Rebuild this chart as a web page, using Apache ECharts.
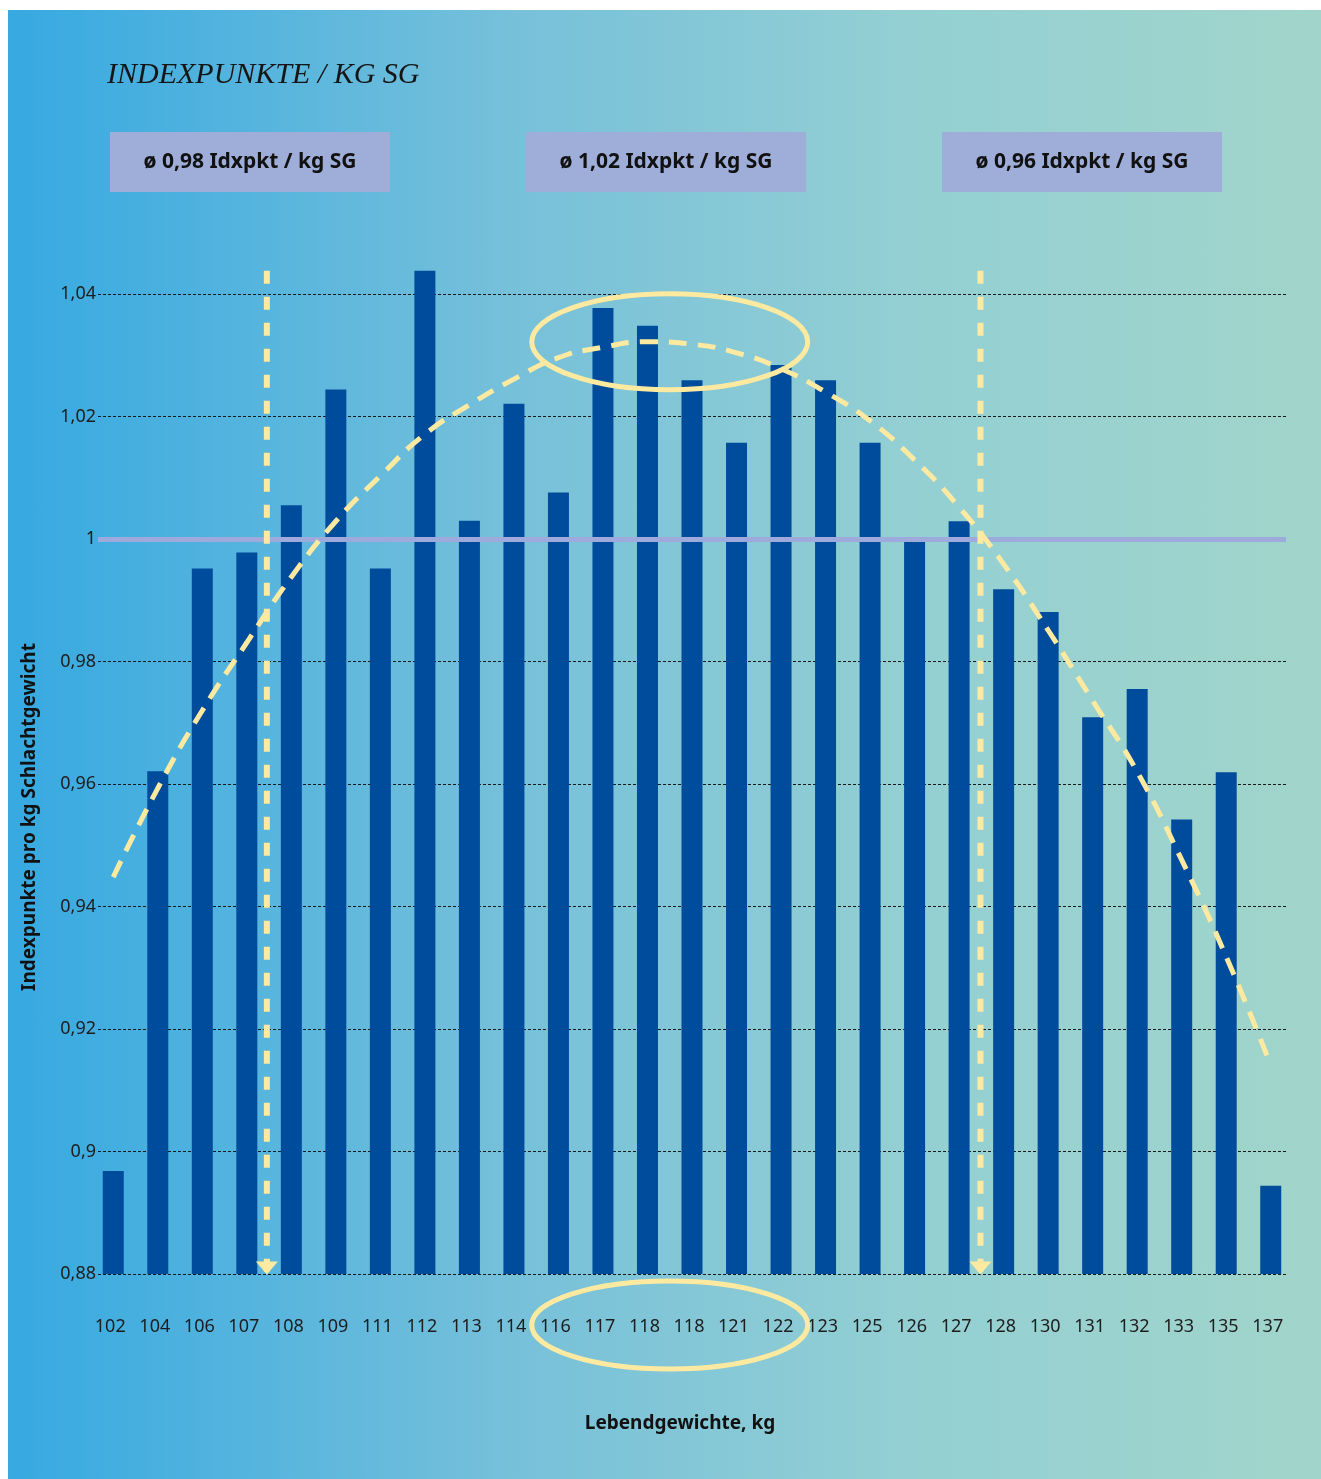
<!DOCTYPE html>
<html>
<head>
<meta charset="utf-8">
<title>Indexpunkte / kg SG</title>
<script src="https://cdn.jsdelivr.net/npm/echarts@6.0.0/dist/echarts.min.js"></script>
<style>
  html, body { margin: 0; padding: 0; background: #ffffff; }
  #bg {
    position: absolute; left: 8px; top: 10px; width: 1313px; height: 1469px;
    background: linear-gradient(to right, #36a9e1 0%, #76c0da 38%, #93cfd3 68%, #a1d5cb 100%);
  }
  #chart { position: absolute; left: 0; top: 0; width: 1321px; height: 1479px; }
</style>
</head>
<body>
<div id="bg"></div>
<div id="chart"></div>
<script>
// Live weight classes (kg) along the x axis
const weights = ['102', '104', '106', '107', '108', '109', '111', '112', '113', '114', '116', '117', '118',
                 '118', '121', '122', '123', '125', '126', '127', '128', '130', '131', '132', '133', '135', '137'];

// Index points per kg carcass weight, one bar per weight class
const indexPerKg = [0.8968, 0.9621, 0.9952, 0.9978, 1.0055, 1.0244, 0.9952, 1.0438, 1.0030, 1.0221, 1.0076,
                    1.0377, 1.0348, 1.0259, 1.0157, 1.0284, 1.0259, 1.0157, 0.9995, 1.0029, 0.9918, 0.9881,
                    0.9709, 0.9755, 0.9542, 0.9619, 0.8944];

// Trend curve, sampled at each weight class position
const trendPos = [0, 1, 2, 3, 4, 5, 6, 7, 8, 9, 10, 11, 12, 13, 14, 15, 16, 17, 18, 19, 20, 21, 22, 23, 24, 25, 26];
const trendVal = [0.9448, 0.9593, 0.9720, 0.9831, 0.9938, 1.0029, 1.0103, 1.0171, 1.0219, 1.0261, 1.0296,
                  1.0313, 1.0322, 1.0318, 1.0304, 1.0278, 1.0240, 1.0193, 1.0129, 1.0052, 0.9959, 0.9851,
                  0.9736, 0.9620, 0.9476, 0.9318, 0.9141];

// Group boundaries (position between weight classes) and the reference level
const boundaryPos = [3.45, 19.48];
const boundaryTop = 1.0438;
const referenceLevel = 1;

// Group averages shown in the header boxes
const groupLabels = ['ø 0,98 Idxpkt / kg SG', 'ø 1,02 Idxpkt / kg SG', 'ø 0,96 Idxpkt / kg SG'];

// Optimum range highlight (centre on the trend peak)
const optimumCentre = [12.5, 1.0322];

const Y_MIN = 0.88, Y_MAX = 1.04, Y_STEP = 0.02;
// The data grid reaches one step higher so the tallest bar and the boundary lines are not clipped
const Y_DATA_MAX = Y_MAX + Y_STEP;
const PLOT_TOP = 294, PLOT_BOTTOM = 205;
const STEP_PX = (1479 - PLOT_TOP - PLOT_BOTTOM) / ((Y_MAX - Y_MIN) / Y_STEP);

const YELLOW = '#fdeaa0';
const FONT = 'Noto Sans';

const chart = echarts.init(document.getElementById('chart'), null, { renderer: 'canvas' });

const fmtTick = v => String(+v.toFixed(2)).replace('.', ',');

// Dashed vertical boundary lines
const boundarySeries = boundaryPos.map((x, i) => ({
  name: 'Grenze ' + (i + 1), type: 'line', xAxisIndex: 2, yAxisIndex: 1,
  data: [[x, boundaryTop], [x, Y_MIN]], symbol: 'none', z: 5, silent: true,
  lineStyle: { color: YELLOW, width: 6, type: [13, 13], opacity: 1 }
}));

chart.setOption({
  backgroundColor: 'transparent',
  animation: false,
  grid: [
    { left: 98, right: 35, top: PLOT_TOP, bottom: PLOT_BOTTOM },            // tick labels, grid lines, reference line
    { left: 91, right: 28, top: PLOT_TOP - STEP_PX, bottom: PLOT_BOTTOM }   // bars, trend, boundaries
  ],
  xAxis: [
    { gridIndex: 0, type: 'value', min: 0, max: 1, show: false },
    {
      gridIndex: 1, type: 'category', data: weights,
      axisLine: { show: false }, axisTick: { show: false }, splitLine: { show: false },
      axisLabel: { interval: 0, margin: 44, fontSize: 18, fontFamily: FONT, color: '#1d1d1d',
                   padding: [0, 6, 0, 0] }
    },
    { gridIndex: 1, type: 'value', min: -0.5, max: 26.5, show: false }
  ],
  yAxis: [
    {
      gridIndex: 0, type: 'value', min: Y_MIN, max: Y_MAX, interval: Y_STEP,
      axisLine: { show: false }, axisTick: { show: false },
      axisLabel: { margin: 2, fontSize: 18, fontFamily: FONT, color: '#1d1d1d', formatter: fmtTick },
      splitLine: { show: true, lineStyle: { color: '#1a1a1a', width: 1, type: [3, 2] } }
    },
    { gridIndex: 1, type: 'value', min: Y_MIN, max: Y_DATA_MAX, show: false, splitLine: { show: false } }
  ],
  series: [
    {
      name: 'Indexpunkte', type: 'bar', xAxisIndex: 1, yAxisIndex: 1,
      data: indexPerKg, barWidth: 21,
      itemStyle: { color: '#004c9c' }, z: 2
    },
    {
      name: 'Referenz', type: 'line', xAxisIndex: 0, yAxisIndex: 0, data: [],
      markLine: {
        silent: true, symbol: 'none', label: { show: false }, z: 3,
        lineStyle: { color: '#9eaadb', width: 5, type: 'solid' },
        data: [{ yAxis: referenceLevel }]
      }
    },
    {
      name: 'Trend', type: 'line', xAxisIndex: 2, yAxisIndex: 1,
      data: trendPos.map((x, i) => [x, trendVal[i]]),
      smooth: true, symbol: 'none', z: 4,
      lineStyle: { color: YELLOW, width: 5, type: [18, 11] }
    },
    ...boundarySeries,
    {
      // arrow heads at the foot of each boundary line
      name: 'Pfeile', type: 'scatter', xAxisIndex: 2, yAxisIndex: 1, z: 6, silent: true,
      data: boundaryPos.map(x => [x, Y_MIN]),
      symbol: 'triangle', symbolRotate: 180, symbolSize: [22, 13], symbolOffset: [0, -6],
      itemStyle: { color: YELLOW, opacity: 1 }
    }
  ]
});

// Annotations: title, group boxes, axis names, highlight ellipses
const centre = chart.convertToPixel({ xAxisIndex: 2, yAxisIndex: 1 }, optimumCentre);
const axisBottom = chart.convertToPixel({ yAxisIndex: 1 }, Y_MIN);

const boxX = [110, 526, 942];
const graphics = [
  {
    type: 'text', x: 107, y: 75, z: 20,
    style: { text: 'INDEXPUNKTE / KG SG', fill: '#151515', font: 'italic 30px "Liberation Serif"',
             verticalAlign: 'middle' }
  },
  {
    type: 'text', x: 680, y: 1424, z: 20,
    style: { text: 'Lebendgewichte, kg', fill: '#111', font: 'bold 19px "Noto Sans"',
             align: 'center', verticalAlign: 'middle' }
  },
  {
    type: 'text', x: 30, y: 817, rotation: Math.PI / 2, z: 20,
    style: { text: 'Indexpunkte pro kg Schlachtgewicht', fill: '#111', font: 'bold 19px "Noto Sans"',
             align: 'center', verticalAlign: 'middle' }
  },
  {
    type: 'ellipse', z: 30, silent: true,
    shape: { cx: centre[0], cy: centre[1], rx: 138, ry: 48 },
    style: { fill: 'none', stroke: YELLOW, lineWidth: 5 }
  },
  {
    type: 'ellipse', z: 30, silent: true,
    shape: { cx: centre[0], cy: axisBottom + 51, rx: 138, ry: 44 },
    style: { fill: 'none', stroke: YELLOW, lineWidth: 5 }
  }
];
groupLabels.forEach((t, i) => {
  graphics.push({
    type: 'rect', z: 20, shape: { x: boxX[i], y: 132, width: 280, height: 60 },
    style: { fill: '#9eaed9' }
  });
  graphics.push({
    type: 'text', z: 21, x: boxX[i] + 140, y: 162,
    style: { text: t, fill: '#111', font: 'bold 21px "Noto Sans"', align: 'center', verticalAlign: 'middle' }
  });
});
chart.setOption({ graphic: graphics });
</script>
</body>
</html>
